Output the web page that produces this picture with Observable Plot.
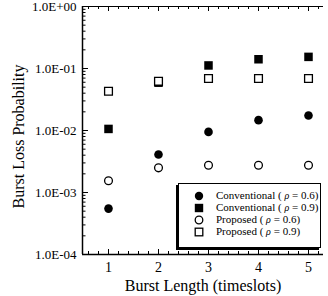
<!DOCTYPE html>
<html><head><meta charset="utf-8">
<script src="https://cdn.jsdelivr.net/npm/d3@7"></script>
<script src="https://cdn.jsdelivr.net/npm/@observablehq/plot@0.6"></script>
<style>
html,body{margin:0;padding:0;background:#fff;}
#wrap{position:relative;width:328px;height:296px;font-family:'Liberation Serif',serif;}
#legend{position:absolute;left:178px;top:183px;width:141px;height:63px;border:1px solid #000;background:#fff;box-shadow:-2px 2px 0 #000;font-family:'Liberation Serif',serif;font-size:11px;color:#000;}
#legend .row{position:absolute;left:0;height:11px;line-height:11px;white-space:nowrap;font-family:'Liberation Serif',serif;}
#legend svg{position:absolute;left:15px;top:0.5px;}
#legend span{position:absolute;left:37px;top:0;line-height:11px;font-family:'Liberation Serif',serif;}
#legend i{font-size:10px;line-height:11px;}
</style></head>
<body><div id="wrap"></div>
<script>
const lengths = [1, 2, 3, 4, 5];
const conv06 = [5.5e-4, 4.1e-3, 9.5e-3, 1.47e-2, 1.75e-2];
const conv09 = [1.06e-2, 5.9e-2, 1.12e-1, 1.41e-1, 1.54e-1];
const prop06 = [1.55e-3, 2.5e-3, 2.75e-3, 2.75e-3, 2.75e-3];
const prop09 = [4.3e-2, 6.2e-2, 6.9e-2, 6.9e-2, 6.9e-2];
const seriesNames = ["Conventional", "Conventional", "Proposed", "Proposed"];
const seriesRho = ["0.6", "0.9", "0.6", "0.9"];
const yMajor = [1e-4, 1e-3, 1e-2, 1e-1, 1];
const xMajor = [1, 2, 3, 4, 5];

const W = 328, H = 296, mL = 82, mR = 5, mT = 6, mB = 42;
const pw = W - mL - mR, ph = H - mT - mB;
const xDom = [0.48, 5.3];

const yMinor = [];
for (let e = -4; e < 0; e++) for (let m = 2; m <= 9; m++) yMinor.push(m * Math.pow(10, e));
const xMinor = [];
for (let v = 0.6; v < 5.3; v += 0.2) { const r = Math.round(v * 10) / 10; if (Math.abs(r - Math.round(r)) > 1e-6) xMinor.push(r); }

const rows = (vals) => lengths.map((x, i) => ({x, y: vals[i]}));
const fmt = d => { const e = Math.round(Math.log10(d)); return "1.0E" + (e >= 0 ? "+" : "-") + String(Math.abs(e)).padStart(2, "0"); };

const chart = Plot.plot({
  width: W, height: H, marginLeft: mL, marginRight: mR, marginTop: mT, marginBottom: mB,
  style: {fontFamily: "'Liberation Serif', serif", color: "#000", background: "#fff"},
  x: {domain: xDom, axis: null},
  y: {type: "log", domain: [1e-4, 1], axis: null},
  marks: [
    Plot.ruleX([xDom[0]], {stroke: "#000", strokeWidth: 1.5}),
    Plot.ruleY([1e-4], {stroke: "#000", strokeWidth: 1.5}),
    Plot.ruleY([1], {stroke: "#000", strokeWidth: 1.2}),
    Plot.tickY(yMajor, {y: d => d, insetRight: pw - 6, stroke: "#000", strokeWidth: 1}),
    Plot.tickY(yMinor, {y: d => d, insetRight: pw - 3.5, stroke: "#000", strokeWidth: 1}),
    Plot.tickX(xMajor, {x: d => d, insetTop: ph - 5, stroke: "#000"}),
    Plot.tickX(xMinor, {x: d => d, insetTop: ph - 3, stroke: "#000"}),
    Plot.tickX(xMajor, {x: d => d, insetBottom: ph - 5, stroke: "#000"}),
    Plot.tickX(xMinor, {x: d => d, insetBottom: ph - 3, stroke: "#000"}),
    Plot.axisY(yMajor, {tickSize: 0, tickPadding: 6, tickFormat: fmt, fontSize: 13, label: null}),
    Plot.axisX(xMajor, {tickSize: 0, tickPadding: 8, tickFormat: d => String(d), fontSize: 14, label: null}),
    Plot.text(["Burst Length (timeslots)"], {frameAnchor: "bottom", dy: 36, fontSize: 16, text: d => d}),
    Plot.text(["Burst Loss Probability"], {frameAnchor: "left", textAnchor: "middle", dx: -64, dy: 6, rotate: -90, fontSize: 16, text: d => d}),
    Plot.dot(rows(conv09), {x: "x", y: "y", symbol: "square", r: 4.8, fill: "#000", stroke: "none"}),
    Plot.dot(rows(prop09), {x: "x", y: "y", symbol: "square", r: 4.4, fill: "#fff", stroke: "#000", strokeWidth: 1.3}),
    Plot.dot(rows(conv06), {x: "x", y: "y", r: 4.3, fill: "#000", stroke: "none"}),
    Plot.dot(rows(prop06), {x: "x", y: "y", r: 3.9, fill: "#fff", stroke: "#000", strokeWidth: 1.3})
  ]
});
const wrap = document.getElementById("wrap");
wrap.appendChild(chart);

const sym = [
  '<circle cx="5" cy="5" r="4.2" fill="#000"/>',
  '<rect x="0.8" y="0.8" width="8.4" height="8.4" fill="#000"/>',
  '<circle cx="5" cy="5" r="3.8" fill="#fff" stroke="#000" stroke-width="1.3"/>',
  '<rect x="1.2" y="1.2" width="7.6" height="7.6" fill="#fff" stroke="#000" stroke-width="1.3"/>'
];
const lg = document.createElement("div");
lg.id = "legend";
seriesNames.forEach((name, i) => {
  const r = document.createElement("div");
  r.className = "row";
  r.style.top = (6 + i * 12) + "px";
  r.innerHTML = '<svg width="10" height="10">' + sym[i] + '</svg><span>' + name + ' ( <i>ρ</i> = ' + seriesRho[i] + ')</span>';
  lg.appendChild(r);
});
wrap.appendChild(lg);
</script></body></html>
